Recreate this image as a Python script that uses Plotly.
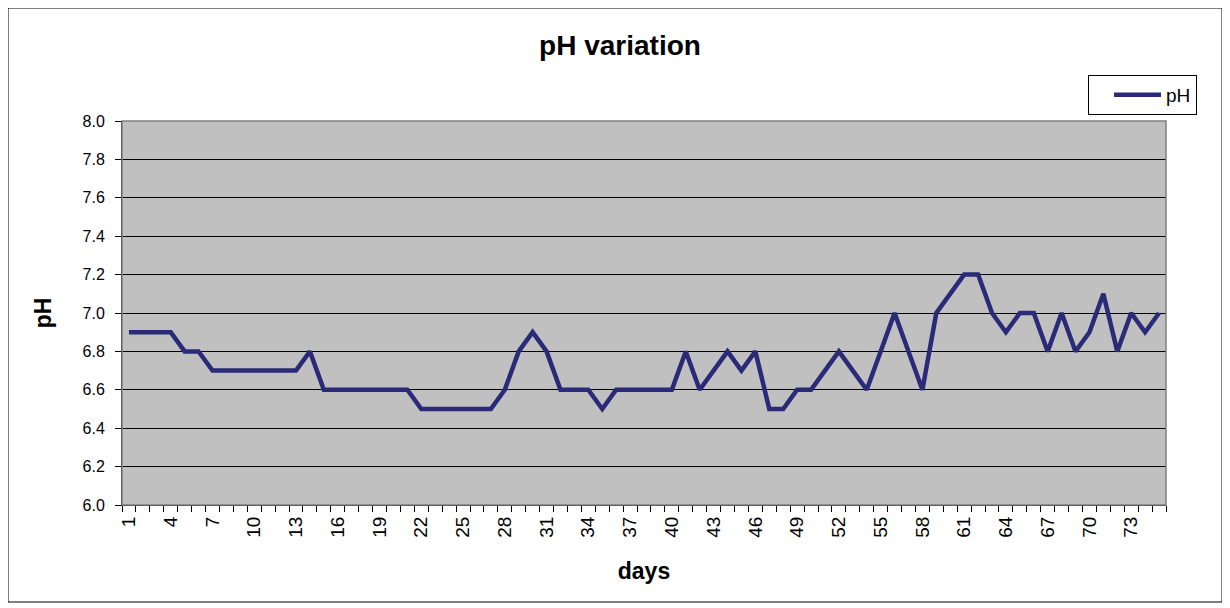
import plotly.graph_objects as go

days = list(range(1, 76))
ph = [6.9, 6.9, 6.9, 6.9, 6.8, 6.8, 6.7, 6.7, 6.7, 6.7,
      6.7, 6.7, 6.7, 6.8, 6.6, 6.6, 6.6, 6.6, 6.6, 6.6,
      6.6, 6.5, 6.5, 6.5, 6.5, 6.5, 6.5, 6.6, 6.8, 6.9,
      6.8, 6.6, 6.6, 6.6, 6.5, 6.6, 6.6, 6.6, 6.6, 6.6,
      6.8, 6.6, 6.7, 6.8, 6.7, 6.8, 6.5, 6.5, 6.6, 6.6,
      6.7, 6.8, 6.7, 6.6, 6.8, 7.0, 6.8, 6.6, 7.0, 7.1,
      7.2, 7.2, 7.0, 6.9, 7.0, 7.0, 6.8, 7.0, 6.8, 6.9,
      7.1, 6.8, 7.0, 6.9, 7.0]
x_tick_days = days[::3]
y_ticks = [6.0, 6.2, 6.4, 6.6, 6.8, 7.0, 7.2, 7.4, 7.6, 7.8, 8.0]

FONT = "Arial, Liberation Sans, sans-serif"

# the page body adds an 8px offset; margins are set so the plot area lands at
# page x 122..1166, y 121..505
L, R, T, B = 114, 72, 113, 111
PW, PH = 1230 - L - R, 608 - T - B

fig = go.Figure()
fig.add_trace(go.Scatter(
    x=days, y=ph, mode="lines", name="pH",
    line=dict(color="#2B2A78", width=4.5),
))

fig.update_layout(
    width=1230, height=608,
    margin=dict(l=L, r=R, t=T, b=B),
    paper_bgcolor="white",
    plot_bgcolor="#C0C0C0",
    font=dict(family=FONT, size=17, color="black"),
    title=dict(text="<b>pH variation</b>", x=612 / 1230, xref="container", xanchor="center",
               y=1 - 37 / 608, yref="container", yanchor="middle",
               font=dict(family=FONT, size=28, color="black")),
    showlegend=True,
    legend=dict(x=(1080 - L) / PW, y=(PH + T - 67) / PH, xanchor="left", yanchor="top",
                bgcolor="white", bordercolor="black", borderwidth=1,
                font=dict(family=FONT, size=19, color="black"),
                indentation=20, itemwidth=47, tracegroupgap=0),
    xaxis=dict(
        range=[days[0] - 0.5, days[-1] + 0.5],
        tickmode="array", tickvals=x_tick_days, ticktext=[str(d) for d in x_tick_days],
        tickangle=-90, ticks="", showgrid=False, zeroline=False,
        showline=True, linecolor="black", linewidth=1, mirror=False,
        tickfont=dict(family=FONT, size=19), ticklabelstandoff=3,
        minor=dict(tickmode="linear", tick0=0.5, dtick=1, ticks="outside",
                   ticklen=6, tickcolor="black", tickwidth=1, showgrid=False),
        title=dict(text="<b>days</b>", font=dict(family=FONT, size=23), standoff=26),
    ),
    yaxis=dict(
        range=[6.0, 8.0], tickmode="array", tickvals=y_ticks,
        ticktext=[f"{v:.1f}" for v in y_ticks],
        ticks="outside", ticklen=6, tickcolor="black",
        showgrid=True, gridcolor="black", gridwidth=1, zeroline=False,
        showline=True, linecolor="black", linewidth=1,
        tickfont=dict(family=FONT, size=16), ticklabelstandoff=7,
        title=dict(text="<b>pH</b>", font=dict(family=FONT, size=23), standoff=24),
    ),
)

# plot-area frame (grey) and outer chart border
fig.add_shape(type="rect", xref="paper", yref="paper", x0=0, y0=0, x1=1, y1=1,
              line=dict(color="#808080", width=1.5), layer="above")
fig.add_shape(type="rect", xref="paper", yref="paper",
              x0=(0 - L) / PW, x1=(1214 - L) / PW,
              y0=(PH + T - 594) / PH, y1=(PH + T - 0) / PH,
              line=dict(color="black", width=1), layer="above")

fig.write_html("out.html")
